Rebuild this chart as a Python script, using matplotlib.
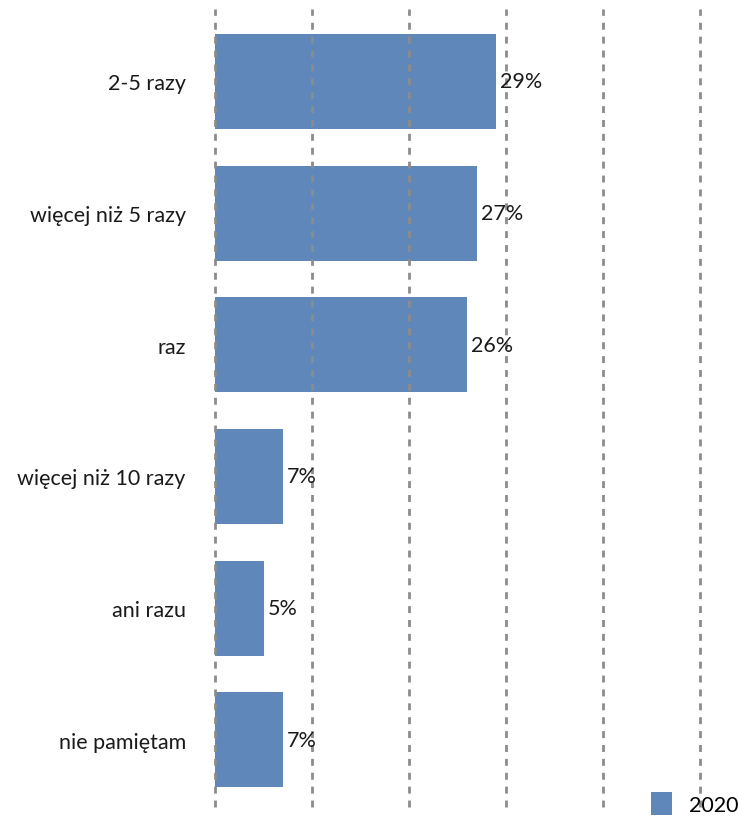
import matplotlib
matplotlib.use("Agg")
import matplotlib.pyplot as plt

categories = ["2-5 razy", "więcej niż 5 razy", "raz", "więcej niż 10 razy", "ani razu", "nie pamiętam"]
values = [29, 27, 26, 7, 5, 7]
series_name = "2020"
xticks = [0, 10, 20, 30, 40, 50]

plt.rcParams['font.family'] = ['Lato', 'DejaVu Sans']

W, H = 738, 820
fig = plt.figure(figsize=(W/100, H/100), dpi=100)
ax = fig.add_axes([215/W, 1-808/H, (700-215)/W, (808-10)/H])

color = "#5F87B9"
fs = 15.5
y = list(range(len(categories)))
ax.barh(y, values, height=0.72, color=color, zorder=2, label=series_name)
ax.set_ylim(len(categories)-0.49, -0.55)
ax.set_xlim(0, 50)
ax.set_xticks(xticks)
ax.set_xticklabels([])
ax.set_yticks(y)
ax.set_yticklabels(categories, fontsize=fs, color="#1a1a1a")
ax.tick_params(axis='both', length=0)
ax.tick_params(axis='y', pad=21)
for s in ax.spines.values():
    s.set_visible(False)
for xv in xticks:
    ax.axvline(xv, color="#8c8c8c", linestyle=(0, (2.5, 2.5)), linewidth=2, zorder=3, clip_on=False)

for yi, v in zip(y, values):
    ax.annotate(f"{v}%", (v, yi), xytext=(3, 0), textcoords="offset points",
                va="center", ha="left", fontsize=fs, color="#1a1a1a", zorder=4)

leg = ax.legend(loc="lower right", bbox_to_anchor=(1.012, -0.006), bbox_transform=fig.transFigure,
                frameon=False, fontsize=fs, handlelength=0.95, handleheight=1.3,
                handletextpad=0.8, borderaxespad=0.0)

fig.savefig("out.png", dpi=100)
